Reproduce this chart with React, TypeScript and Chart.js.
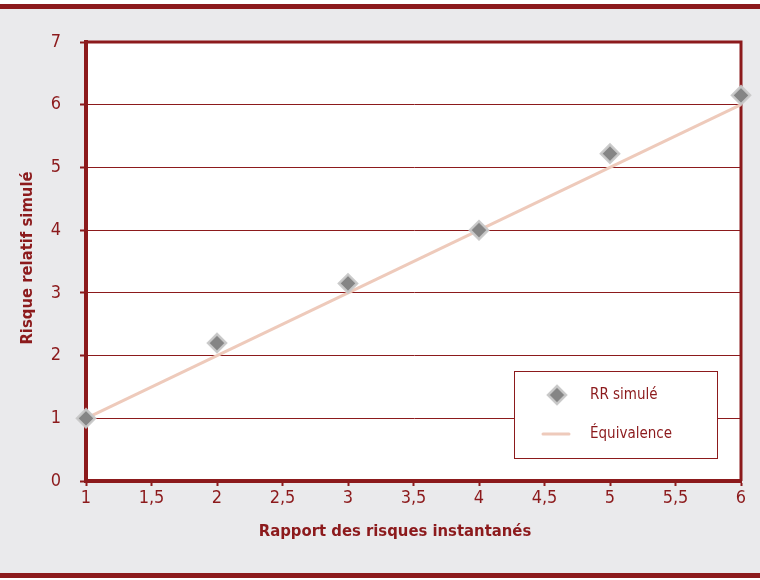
import React, { useEffect, useRef } from "react";
import { Chart, registerables } from "chart.js";

Chart.register(...registerables);

const rapportRisques = [1, 2, 3, 4, 5, 6];
const rrSimule = [1.0, 2.2, 3.15, 4.0, 5.22, 6.15];
const equivalenceX = [1, 6];
const equivalenceY = [1, 6];
const yTitle = "Risque relatif simulé";
const xTitle = "Rapport des risques instantanés";
const legendLabels = ["RR simulé", "Équivalence"];

const RED = "#8c1a1c";
const GREY_BG = "#eaeaec";
const LINE = "#eecabb";
const FONT = "'Liberation Sans Narrow', 'DejaVu Sans Condensed', 'Open Sans', sans-serif";

export default function App() {
  const ref = useRef<HTMLCanvasElement>(null);
  useEffect(() => {
    const canvas = ref.current!;
    const decor = {
      id: "decor",
      beforeDraw(chart: any) {
        const { ctx, width, height, chartArea: a } = chart;
        ctx.save();
        ctx.fillStyle = "#ffffff";
        ctx.fillRect(0, 0, width, height);
        ctx.fillStyle = GREY_BG;
        ctx.fillRect(0, 9, width, 564);
        ctx.fillStyle = RED;
        ctx.fillRect(0, 4, width, 5);
        ctx.fillRect(0, 573, width, 5);
        ctx.fillStyle = "#ffffff";
        ctx.fillRect(a.left, a.top, a.right - a.left, a.bottom - a.top);
        ctx.restore();
      },
      beforeDatasetsDraw(chart: any) {
        const { ctx, chartArea: a } = chart;
        ctx.save();
        ctx.strokeStyle = RED;
        ctx.lineWidth = 3;
        ctx.beginPath();
        ctx.moveTo(a.left - 2, a.top);
        ctx.lineTo(a.right, a.top);
        ctx.lineTo(a.right, a.bottom);
        ctx.stroke();
        ctx.restore();
      },
      afterDraw(chart: any) {
        const { ctx } = chart;
        ctx.save();
        // axis titles
        ctx.fillStyle = RED;
        ctx.font = `bold 16.5px ${FONT}`;
        ctx.textAlign = "center";
        ctx.textBaseline = "middle";
        ctx.fillText(xTitle, 395, 532);
        ctx.save();
        ctx.translate(28, 258);
        ctx.rotate(-Math.PI / 2);
        ctx.fillText(yTitle, 0, 0);
        ctx.restore();
        // legend
        ctx.fillStyle = "#ffffff";
        ctx.fillRect(514, 371, 203, 87);
        ctx.strokeStyle = RED;
        ctx.lineWidth = 1;
        ctx.strokeRect(514.5, 371.5, 203, 87);
        // diamond
        ctx.beginPath();
        ctx.moveTo(557, 386);
        ctx.lineTo(566, 395);
        ctx.lineTo(557, 404);
        ctx.lineTo(548, 395);
        ctx.closePath();
        ctx.fillStyle = "#858585";
        ctx.fill();
        ctx.strokeStyle = "rgba(200,200,200,0.95)";
        ctx.lineWidth = 2.5;
        ctx.stroke();
        // line
        ctx.strokeStyle = LINE;
        ctx.lineWidth = 3;
        ctx.lineCap = "round";
        ctx.beginPath();
        ctx.moveTo(543, 434);
        ctx.lineTo(569, 434);
        ctx.stroke();
        ctx.fillStyle = RED;
        ctx.font = `15px ${FONT}`;
        ctx.textAlign = "left";
        ctx.fillText(legendLabels[0], 590, 395);
        ctx.fillText(legendLabels[1], 590, 434);
        ctx.restore();
      },
    };
    const chart = new Chart(canvas, {
      type: "scatter",
      data: {
        datasets: [
          {
            label: legendLabels[0],
            data: rapportRisques.map((x, i) => ({ x, y: rrSimule[i] })),
            pointStyle: "rectRot",
            pointRadius: 9,
            pointBorderWidth: 2.5,
            backgroundColor: "#858585",
            borderColor: "rgba(200,200,200,0.95)",
            order: 0,
            clip: false,
          } as any,
          {
            type: "line",
            label: legendLabels[1],
            data: equivalenceX.map((x, i) => ({ x, y: equivalenceY[i] })),
            borderColor: LINE,
            borderWidth: 3,
            pointRadius: 0,
            showLine: true,
            fill: false,
            order: 1,
            clip: false,
          } as any,
        ],
      },
      options: {
        responsive: false,
        animation: false,
        events: [],
        layout: { padding: { left: 0, top: 42, right: 19, bottom: 0 } },
        plugins: { legend: { display: false }, tooltip: { enabled: false } },
        scales: {
          x: {
            type: "linear",
            min: 1,
            max: 6,
            afterFit: (s: any) => {
              s.height = 99;
            },
            ticks: {
              stepSize: 0.5,
              color: RED,
              font: { family: FONT, size: 18 },
              padding: 2,
              maxRotation: 0,
              callback: (v: any) => String(v).replace(".", ","),
            },
            grid: {
              drawOnChartArea: false,
              drawTicks: true,
              tickLength: 5,
              tickColor: RED,
              tickWidth: 2,
            },
            border: { display: true, color: RED, width: 4 },
          },
          y: {
            type: "linear",
            min: 0,
            max: 7,
            afterFit: (s: any) => {
              s.width = 86;
            },
            ticks: {
              stepSize: 1,
              color: RED,
              font: { family: FONT, size: 18 },
              padding: 19,
            },
            grid: {
              color: RED,
              lineWidth: 1,
              drawTicks: true,
              tickLength: 6,
              tickColor: RED,
              tickWidth: 2,
            },
            border: { display: true, color: RED, width: 4 },
          },
        },
      },
      plugins: [decor],
    });
    return () => chart.destroy();
  }, []);
  return (
    <div style={{ position: "fixed", left: 0, top: 0, width: 760, height: 580 }}>
      <canvas ref={ref} width={760} height={580} style={{ width: 760, height: 580 }} />
    </div>
  );
}
